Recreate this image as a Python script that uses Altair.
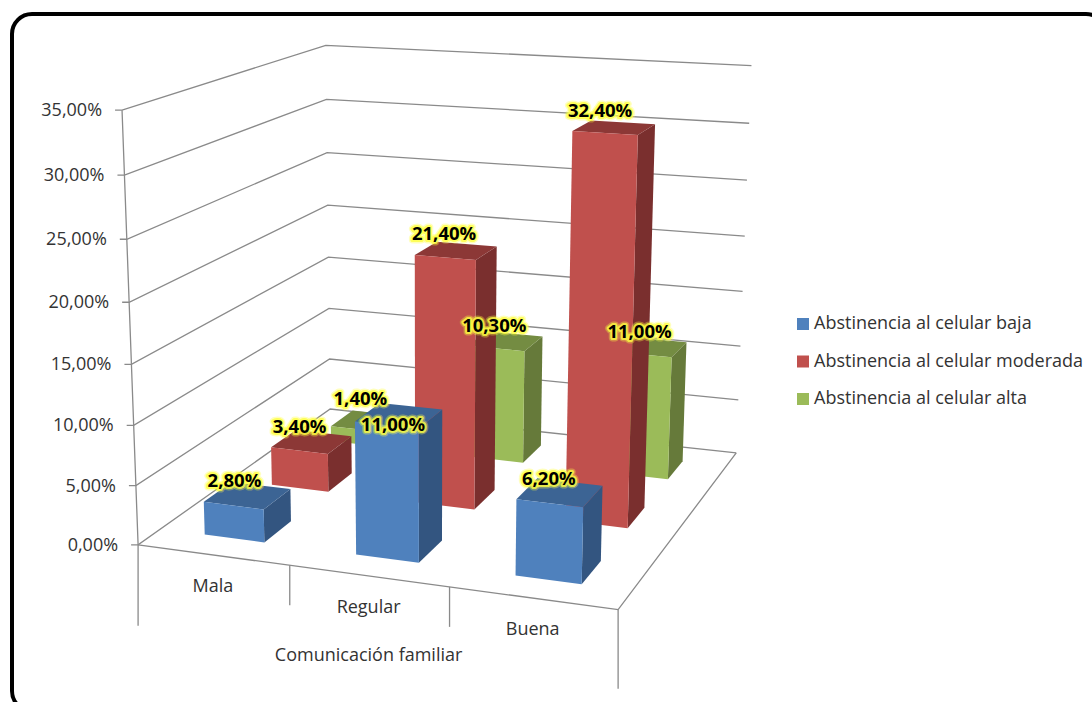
import altair as alt
import numpy as np
import pandas as pd

# Values of the chart
categories = ["Mala", "Regular", "Buena"]
series = ["Abstinencia al celular baja", "Abstinencia al celular moderada", "Abstinencia al celular alta"]
baja = [2.8, 11.0, 6.2]
moderada = [3.4, 21.4, 32.4]
alta = [1.4, 10.3, 11.0]
value_ticks = [0, 5, 10, 15, 20, 25, 30, 35]
axis_title = "Comunicación familiar"

WIDTH, HEIGHT = 1092, 702
FONT = "Open Sans"
GRID = "#8a8a8a"
TEXT = "#333333"
COLORS = {"front": ["#4F81BD", "#C0504D", "#9BBB59"],
          "top": ["#3C6494", "#8C3836", "#748C42"],
          "side": ["#335580", "#7A2F2E", "#667A3A"]}
BAR_SPAN = 0.4  # 150% gap in width and in depth

# Camera calibration: box corner (category, depth, value) -> page position
calibration = [
    ((0, 0, 0), (138, 544)), ((1, 0, 0), (290, 566)), ((2, 0, 0), (449, 587)),
    ((3, 0, 0), (618, 610)), ((3, 1, 0), (737, 452)), ((0, 1, 0), (330, 408)),
    ((0, 0, 35), (122, 110)), ((0, 1, 35), (326, 44)), ((3, 1, 35), (751, 66)),
    ((0, 0, 30), (125, 175)), ((0, 1, 15), (328, 260)),
]


def solve_camera(pairs):
    rows = []
    for (u, v, h), (px, py) in pairs:
        world = [u, v, h, 1]
        rows.append(world + [0, 0, 0, 0] + [-px * w for w in world])
        rows.append([0, 0, 0, 0] + world + [-py * w for w in world])
    return np.linalg.svd(np.array(rows, float))[2][-1].reshape(3, 4)


CAMERA = solve_camera(calibration)


def project(u, v, h):
    p = CAMERA @ np.array([u, v, h, 1.0])
    return float(p[0] / p[2]), float(p[1] / p[2])


x_scale = alt.Scale(domain=[0, WIDTH], range=[0, WIDTH], nice=False, zero=False)
y_scale = alt.Scale(domain=[0, HEIGHT], range=[0, HEIGHT], nice=False, zero=False)
X = alt.X("x:Q", scale=x_scale, axis=None)
Y = alt.Y("y:Q", scale=y_scale, axis=None)

# Wall grid, floor outline and tick marks
lines = []


def add_line(points):
    key = len(lines)
    for i, (px, py) in enumerate(points):
        lines.append({"line": key, "seq": i, "x": px, "y": py})


def drop(point, length):
    return point[0], point[1] + length


for t in value_ticks:
    left = project(0, 0, t)
    add_line([(left[0] - 7, left[1]), left, project(0, 1, t), project(3, 1, t)])
corner = project(0, 0, 0)
add_line([project(0, 0, 35), corner, drop(corner, 81)])
add_line([corner, project(3, 0, 0), project(3, 1, 0)])
for c, length in ((1, 40), (2, 40), (3, 79)):
    foot = project(c, 0, 0)
    add_line([foot, drop(foot, length)])

wire = alt.Chart(pd.DataFrame(lines)).mark_line(color=GRID, strokeWidth=1.3).encode(
    x=X, y=Y, detail="line:N", order="seq:Q")

# Bar faces, painted from the back row to the front row
faces = []
values = [baja, moderada, alta]


def add_face(corners, fill):
    key = f"f{len(faces):04d}"
    for i, (u, v, h) in enumerate(corners):
        px, py = project(u, v, h)
        faces.append({"face": key, "seq": i, "x": px, "y": py, "fill": fill})


for s in (2, 1, 0):
    v0 = (s + 0.5 - BAR_SPAN / 2) / 3
    v1 = (s + 0.5 + BAR_SPAN / 2) / 3
    for c in range(3):
        u0 = c + 0.5 - BAR_SPAN / 2
        u1 = c + 0.5 + BAR_SPAN / 2
        h = values[s][c]
        add_face([(u1, v0, 0), (u1, v1, 0), (u1, v1, h), (u1, v0, h)], COLORS["side"][s])
        add_face([(u0, v0, h), (u1, v0, h), (u1, v1, h), (u0, v1, h)], COLORS["top"][s])
        add_face([(u0, v0, 0), (u1, v0, 0), (u1, v0, h), (u0, v0, h)], COLORS["front"][s])

bars = alt.Chart(pd.DataFrame(faces)).mark_line(filled=True, strokeWidth=0).encode(
    x=X, y=Y, detail="face:N", order="seq:Q",
    fill=alt.Fill("fill:N", scale=None, legend=None))

# Value labels with a yellow glow
label_shift = {(0, 0): (-13, -14), (0, 1): (-12, -15), (0, 2): (-8, -22),
               (1, 0): (-6, 10), (1, 1): (-12, -17), (1, 2): (-11, -15),
               (2, 0): (-11, -14), (2, 1): (-14, -17), (2, 2): (-10, -15)}
label_rows = []
for s in range(3):
    for c in range(3):
        px, py = project(c + 0.5, (s + 0.5) / 3, values[s][c])
        dx, dy = label_shift[(c, s)]
        text = f"{values[s][c]:.2f}%".replace(".", ",")
        label_rows.append({"x": px + dx, "y": py + dy, "label": text})
labels = pd.DataFrame(label_rows)
glow_wide = alt.Chart(labels).mark_text(
    font=FONT, fontWeight="bold", fontSize=18.5, stroke="#FFFF40", strokeWidth=7,
    strokeOpacity=0.35, strokeJoin="round", fill="#FFFF40"
).encode(x=X, y=Y, text="label:N")
glow_tight = alt.Chart(labels).mark_text(
    font=FONT, fontWeight="bold", fontSize=18.5, stroke="#FFFF40", strokeWidth=4,
    strokeOpacity=0.8, strokeJoin="round", fill="#FFFF40"
).encode(x=X, y=Y, text="label:N")
label_text = alt.Chart(labels).mark_text(
    font=FONT, fontWeight="bold", fontSize=18.5, color="#000000"
).encode(x=X, y=Y, text="label:N")

# Value axis labels
tick_rows = []
for t in value_ticks:
    px, py = project(0, 0, t)
    tick_rows.append({"x": px - 20, "y": py + 1, "label": f"{t:.2f}%".replace(".", ",")})
tick_text = alt.Chart(pd.DataFrame(tick_rows)).mark_text(
    font=FONT, fontSize=18, align="right", color=TEXT
).encode(x=X, y=Y, text="label:N")

# Category labels and axis title
cat_rows = []
for c, name in enumerate(categories):
    px, py = project(c + 0.5, 0, 0)
    cat_rows.append({"x": px, "y": py + 32, "label": name})
px, py = project(1.5, 0, 0)
cat_rows.append({"x": px, "y": py + 80, "label": axis_title})
cat_text = alt.Chart(pd.DataFrame(cat_rows)).mark_text(
    font=FONT, fontSize=18, color=TEXT
).encode(x=X, y=Y, text="label:N")

# Invisible layer that feeds the legend
legend_layer = alt.Chart(pd.DataFrame({"series": series, "x": [0, 0, 0], "y": [0, 0, 0]})).mark_square(
    opacity=0, size=144
).encode(
    x=X, y=Y,
    color=alt.Color("series:N", scale=alt.Scale(domain=series, range=COLORS["front"]),
                    sort=series,
                    legend=alt.Legend(title=None, orient="none", legendX=794, legendY=315,
                                      symbolType="square", symbolSize=144, symbolOpacity=1,
                                      symbolStrokeWidth=0, labelFont=FONT, labelFontSize=18,
                                      labelColor=TEXT, labelOffset=2, rowPadding=19.5,
                                      labelLimit=320, padding=0)))

# Rounded outer frame running off the page on the right and bottom
frame = alt.Chart(pd.DataFrame({"a": [0]})).mark_rect(
    filled=False, stroke="#000000", strokeWidth=4, cornerRadius=20
).encode(x=alt.value(12), x2=alt.value(1106), y=alt.value(14), y2=alt.value(711))

chart = alt.layer(
    frame, wire, bars, glow_wide, glow_tight, label_text, tick_text, cat_text, legend_layer
).properties(
    width=WIDTH, height=HEIGHT, padding=0, background="#FFFFFF",
    autosize=alt.AutoSizeParams(type="none")
).configure_view(stroke=None)

chart.save("out.html", embed_options={"renderer": "svg", "actions": False})
